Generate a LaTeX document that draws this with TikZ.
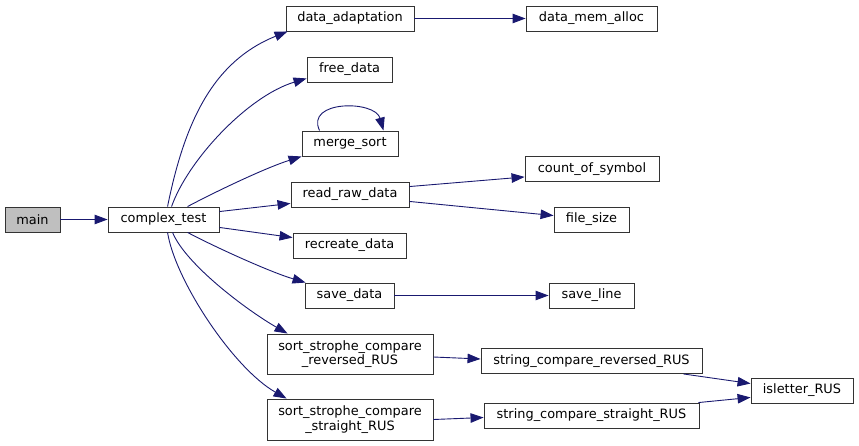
\documentclass[tikz,border=0pt]{standalone}
\usepackage{fontspec}
\setmainfont{DejaVu Sans}
\usetikzlibrary{arrows.meta}
\definecolor{edgec}{HTML}{191970}
\definecolor{mainfill}{HTML}{BFBFBF}
\begin{document}
\begin{tikzpicture}[x=1pt,y=-1pt,
  fn/.style={draw=black!80, line width=0.9pt, rectangle, inner sep=0pt,
    minimum height=25pt, font=\fontsize{12.9}{14.5}\selectfont, align=center},
  call/.style={draw=edgec, line width=0.9pt, -{Triangle[length=13pt,width=9.5pt]}, fill=none},
]
\useasboundingbox (0,0) rectangle (859,446);

% nodes
\node[fn, fill=mainfill, minimum width=55pt] (main) at (32.5,219.5) {main};
\node[fn, minimum width=111pt] (ct) at (163.5,219.5) {complex\_test};
\node[fn, minimum width=128pt] (da) at (350,18.5) {data\_adaptation};
\node[fn, minimum width=131pt] (dm) at (591.5,18.5) {data\_mem\_alloc};
\node[fn, minimum width=85pt] (fd) at (349.5,69.5) {free\_data};
\node[fn, minimum width=96pt] (ms) at (350,143.5) {merge\_sort};
\node[fn, minimum width=118pt] (rr) at (350,194.5) {read\_raw\_data};
\node[fn, minimum width=134pt] (cs) at (592,169) {count\_of\_symbol};
\node[fn, minimum width=75pt] (fs) at (591.5,219.5) {file\_size};
\node[fn, minimum width=113pt] (rc) at (349.5,245.5) {recreate\_data};
\node[fn, minimum width=89pt] (so) at (349.5,295.5) {save\_data};
\node[fn, minimum width=85pt] (sl) at (591.5,295.5) {save\_line};
\node[fn, minimum width=166pt, minimum height=40pt] (r1) at (350,354) {sort\_strophe\_compare\\\_reversed\_RUS};
\node[fn, minimum width=221pt] (sr) at (591.5,361) {string\_compare\_reversed\_RUS};
\node[fn, minimum width=102pt] (il) at (802,390.5) {isletter\_RUS};
\node[fn, minimum width=166pt, minimum height=41pt] (r2) at (350,419.5) {sort\_strophe\_compare\\\_straight\_RUS};
\node[fn, minimum width=215pt] (ss) at (591.5,415.5) {string\_compare\_straight\_RUS};

% edges
\draw[call] (main) -- (ct);
\draw[call] ([xshift=60pt]ct.north west) .. controls (185,120) and (214,61) .. ([xshift=2pt]da.south west);
\draw[call] ([xshift=64pt]ct.north west) .. controls (188,160) and (248,96) .. ([yshift=4pt]fd.south west);
\draw[call] ([xshift=80pt]ct.north west) .. controls (215,192) and (265,168) .. ([yshift=0pt]ms.south west);
\draw[call] ([xshift=18pt]ms.north west) .. controls (305,100) and (375,100) .. ([xshift=-15pt]ms.north east);
\draw[call] ([yshift=-5pt]ct.north east) -- ([yshift=4pt]rr.south west);
\draw[call] ([yshift=5pt]ct.south east) -- ([yshift=-5pt]rc.north west);
\draw[call] ([xshift=80pt]ct.south west) .. controls (215,247) and (270,272) .. ([xshift=1pt]so.north west);
\draw[call] ([xshift=65pt]ct.south west) .. controls (186,265) and (248,311) .. ([xshift=21pt]r1.north west);
\draw[call] ([xshift=60pt]ct.south west) .. controls (175,280) and (233,368) .. ([xshift=20pt]r2.north west);
\draw[call] ([yshift=-5pt]rr.north east) -- ([yshift=5pt]cs.south west);
\draw[call] ([yshift=6pt]rr.south east) -- ([yshift=-9pt]fs.north west);
\draw[call] (da) -- (dm);
\draw[call] (so) -- (sl);
\draw[call] ([yshift=-3pt]r1.east) -- ([yshift=2pt]sr.west);
\draw[call] (r2.east) -- ([yshift=-2pt]ss.west);
\draw[call] ([xshift=-19pt]sr.south east) -- ([yshift=-6pt]il.north west);
\draw[call] ([xshift=-1pt]ss.north east) -- ([yshift=6pt]il.south west);
\end{tikzpicture}
\end{document}
